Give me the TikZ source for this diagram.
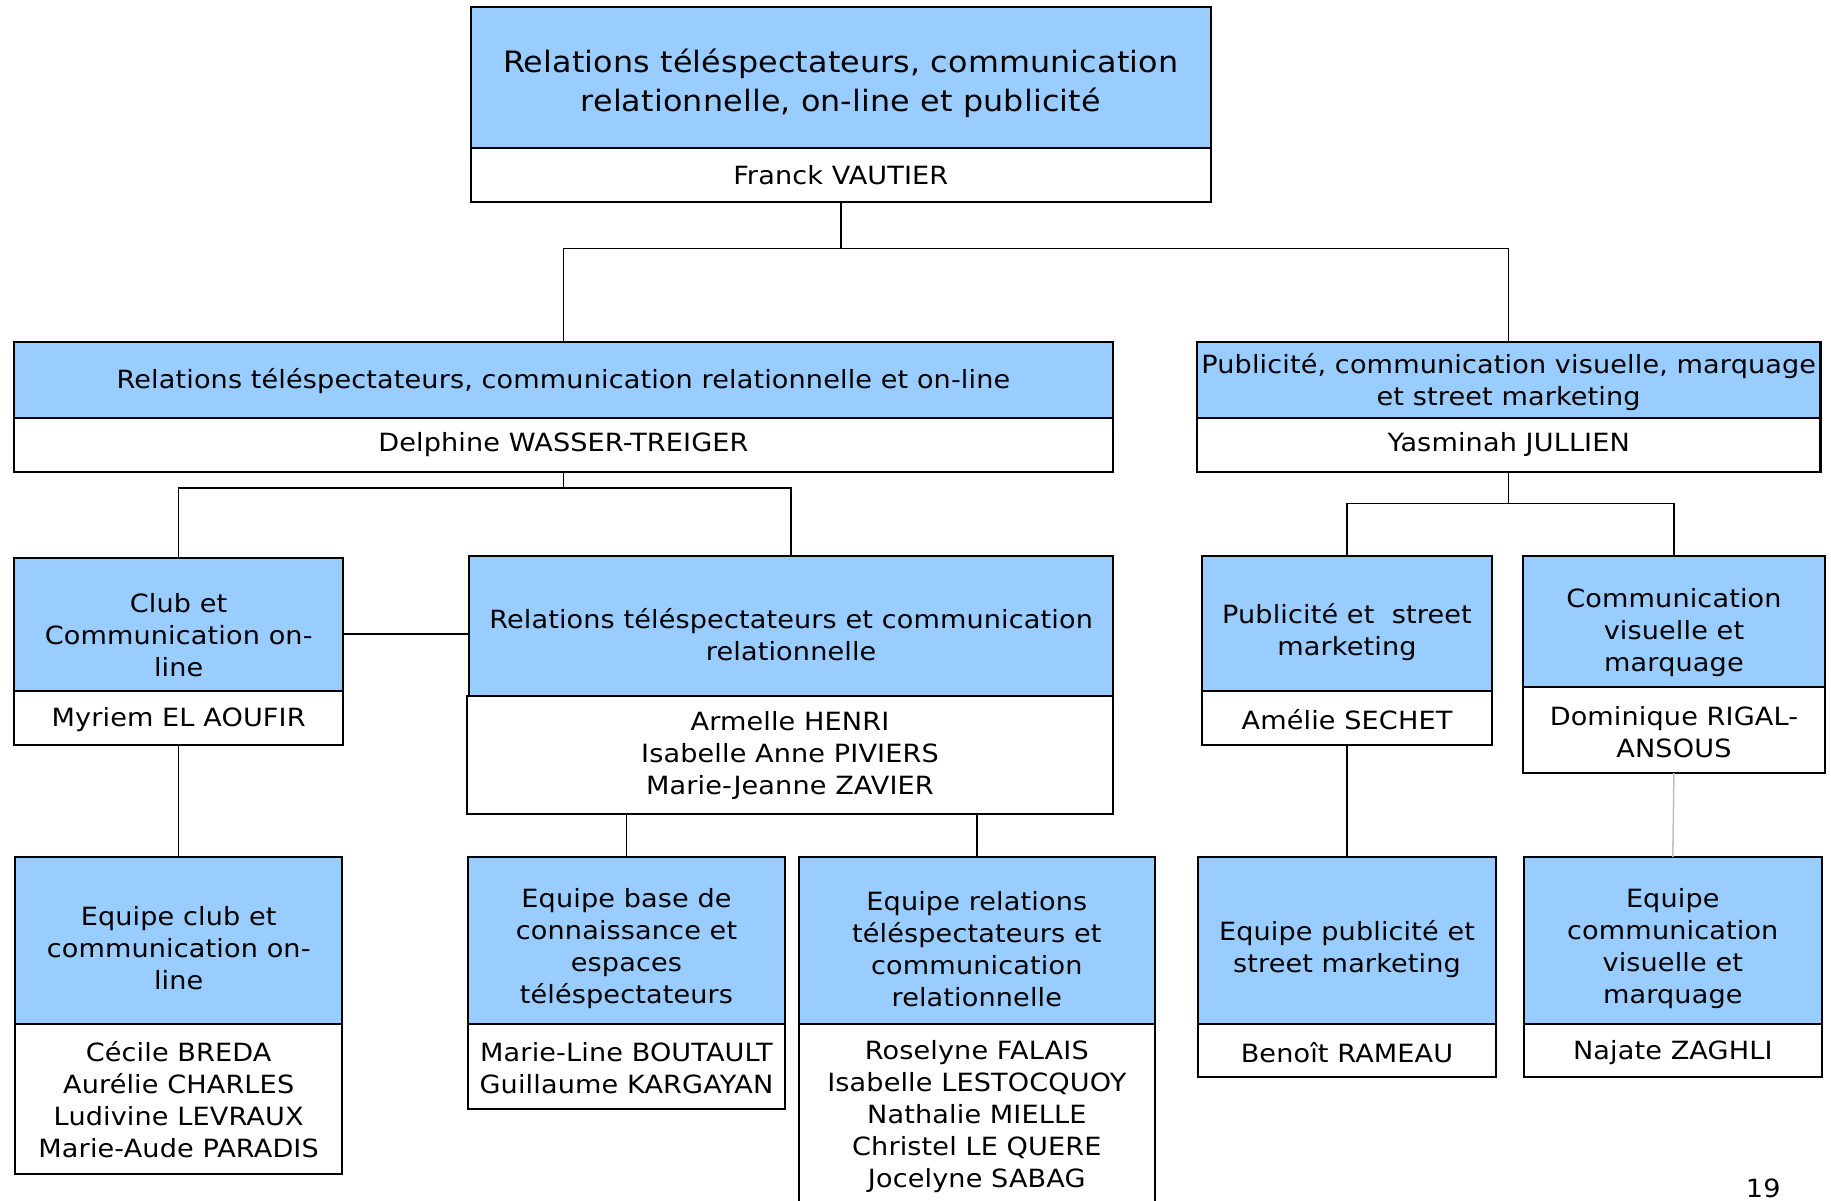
\documentclass[tikz,border=0pt]{standalone}
\usepackage{fontspec}
\setmainfont{DejaVu Sans}[FakeStretch=1.08, LetterSpace=0.5]
\definecolor{boxblue}{HTML}{99CCFF}
\definecolor{lgray}{HTML}{C0C0C0}
\tikzset{
  bx/.style={draw=black, line width=1.8pt, inner sep=0pt, outer sep=0pt},
  hd/.style={bx, fill=boxblue},
  nm/.style={bx, fill=white},
  txt/.style={align=center, inner sep=0pt, font=\fontsize{21.5}{27.4}\selectfont},
  bigtxt/.style={align=center, inner sep=0pt, font=\fontsize{25.2}{33}\selectfont},
  conn/.style={line width=1.3pt, draw=black},
}
% #1 name, #2 x1, #3 y1, #4 x2, #5 y2, #6 style, #7 text y, #8 text
\newcommand\obox[8]{%
  \node[#6, minimum width={#4-#2}, minimum height={#5-#3}] (#1) at ({(#2+#4)/2},{(#3+#5)/2}) {};
  \node[txt] (#1t) at ({(#2+#4)/2},#7) {#8};
}
\begin{document}
\begin{tikzpicture}[x=1pt,y=-1pt]
\useasboundingbox (0,0) rectangle (1568,1028);
\clip (0,0) rectangle (1568,1028);
\fill[white] (0,0) rectangle (1568,1028);

% top
\node[hd, minimum width=634, minimum height=121] (t0) at (720,66.5) {};
\node[bigtxt] (t0t) at (720,71.5) {Relations téléspectateurs, communication\\relationnelle, on-line et publicité};
\obox{n0}{403}{127}{1037}{173}{nm}{150}{Franck VAUTIER}

% level 1
\obox{t1}{12}{293}{953}{358}{hd}{326}{Relations téléspectateurs, communication relationnelle et on-line}
\obox{n1}{12}{358}{953}{404}{nm}{381}{Delphine WASSER-TREIGER}
\obox{t2}{1025}{293}{1559}{358}{hd}{327}{Publicité, communication visuelle, marquage\\et street marketing}
\obox{n2}{1025}{358}{1559}{404}{nm}{381}{Yasminah JULLIEN}

% level 2
\obox{t3}{12}{478}{294}{592}{hd}{543.5}{Club et\\Communication on-\\line}
\obox{n3}{12}{592}{294}{638}{nm}{616}{Myriem EL AOUFIR}
\obox{t4}{402}{476}{953}{596}{hd}{543.5}{Relations téléspectateurs et communication\\relationnelle}
\obox{n4}{400}{596}{953}{697}{nm}{647}{Armelle HENRI\\Isabelle Anne PIVIERS\\Marie-Jeanne ZAVIER}
\obox{t5}{1029}{476}{1278}{592}{hd}{541.5}{Publicité et\ \ street\\marketing}
\obox{n5}{1029}{592}{1278}{638}{nm}{616}{Amélie SECHET}
\obox{t6}{1304}{476}{1563}{588}{hd}{542}{Communication\\visuelle et\\marquage}
\obox{n6}{1304}{588}{1563}{662}{nm}{627}{Dominique RIGAL-\\ANSOUS}

% level 3
\obox{e1}{13}{734}{293}{877}{hd}{812}{Equipe club et\\communication on-\\line}
\obox{m1}{13}{877}{293}{1005}{nm}{942}{Cécile BREDA\\Aurélie CHARLES\\Ludivine LEVRAUX\\Marie-Aude PARADIS}
\obox{e2}{401}{734}{672}{877}{hd}{812.5}{Equipe base de\\connaissance et\\espaces\\téléspectateurs}
\obox{m2}{401}{877}{672}{950}{nm}{915}{Marie-Line BOUTAULT\\Guillaume KARGAYAN}
\obox{e3}{684}{734}{989}{877}{hd}{812.5}{Equipe relations\\téléspectateurs et\\communication\\relationnelle}
\obox{m3}{684}{877}{989}{1040}{nm}{956.5}{Roselyne FALAIS\\Isabelle LESTOCQUOY\\Nathalie MIELLE\\Christel LE QUERE\\Jocelyne SABAG}
\obox{e4}{1026}{734}{1281}{877}{hd}{813}{Equipe publicité et\\street marketing}
\obox{m4}{1026}{877}{1281}{922}{nm}{901}{Benoît RAMEAU}
\obox{e5}{1305}{734}{1560}{877}{hd}{812.5}{Equipe\\communication\\visuelle et\\marquage}
\obox{m5}{1305}{877}{1560}{922}{nm}{901}{Najate ZAGHLI}

% page number
\node[txt, anchor=south] (pg) at (1510,1026) {19};

% connectors
\coordinate (j0) at (720,213);
\draw[conn] (n0.south) -- (j0) -| (t1.north);
\draw[conn] (j0) -| (t2.north);
\coordinate (j1) at (482.5,418);
\draw[conn] (n1.south) -- (j1) -| (t3.north);
\draw[conn] (j1) -| (t4.north);
\draw[conn] (t3.east |- 0,543) -- (t4.west |- 0,543);
\coordinate (j2) at (1292,431);
\draw[conn] (n2.south) -- (j2) -| (t5.north);
\draw[conn] (j2) -| (t6.north);
\draw[conn] (n3.south) -- (e1.north);
\draw[conn] (e2.north |- n4.south) -- (e2.north);
\draw[conn] (e3.north |- n4.south) -- (e3.north);
\draw[conn] (n5.south) -- (e4.north);
\draw[conn, draw=lgray] (n6.south) -- (e5.north);
\end{tikzpicture}
\end{document}
